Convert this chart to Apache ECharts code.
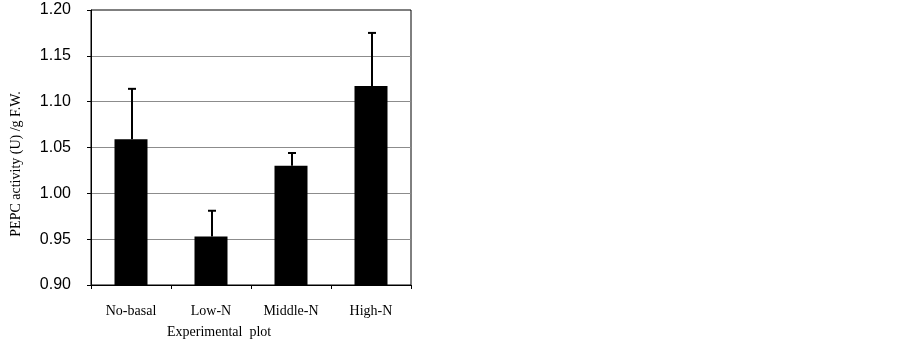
<!DOCTYPE html>
<html><head><meta charset="utf-8">
<script src="https://cdn.jsdelivr.net/npm/echarts@6/dist/echarts.min.js"></script>
<style>html,body{margin:0;padding:0;background:#fff}#c{width:902px;height:344px}</style>
</head><body><div id="c"></div>
<script>
var categories = ['No-basal', 'Low-N', 'Middle-N', 'High-N'];
var means = [1.059, 0.953, 1.030, 1.117];
var errors = [0.055, 0.028, 0.014, 0.058];
var yTicks = [0.90, 0.95, 1.00, 1.05, 1.10, 1.15, 1.20];
var yTitle = 'PEPC activity (U) /g F.W.';
var xTitle = 'Experimental  plot';

var chart = echarts.init(document.getElementById('c'));
var errData = means.map(function(m, i){ return [i, m, m + errors[i]]; });
chart.setOption({
  animation: false,
  grid: {left: 91, top: 10, width: 320, height: 275, show: true, borderColor: '#000', borderWidth: 1, backgroundColor: 'transparent'},
  xAxis: {
    type: 'category', data: categories,
    axisLine: {lineStyle: {color: '#000', width: 1}},
    axisTick: {show: true, length: 4, interval: 0, lineStyle: {color: '#000'}},
    axisLabel: {fontFamily: 'Liberation Serif', fontSize: 14, color: '#000', margin: 19}
  },
  yAxis: {
    type: 'value', min: yTicks[0], max: yTicks[yTicks.length - 1], interval: 0.05,
    axisLine: {show: true, lineStyle: {color: '#000', width: 1}},
    axisTick: {show: true, length: 4, lineStyle: {color: '#000'}},
    axisLabel: {fontFamily: 'Liberation Sans', fontSize: 16, color: '#000', margin: 20, padding: [4, 0, 0, 0],
      formatter: function(v){ return v.toFixed(2); }},
    splitLine: {show: true, showMaxLine: false, showMinLine: false, lineStyle: {color: '#8c8c8c', width: 1}}
  },
  graphic: [
    {type: 'text', left: 167, top: 325, style: {text: xTitle, font: '14px "Liberation Serif"', fill: '#000'}},
    {type: 'text', x: 16, y: 164, rotation: Math.PI / 2, style: {text: yTitle, font: '14px "Liberation Serif"', fill: '#000', textAlign: 'center', textVerticalAlign: 'middle'}}
  ],
  series: [
    {type: 'bar', data: means, barWidth: 33, itemStyle: {color: '#000'}, z: 2},
    {type: 'custom', data: errData, z: 3,
      renderItem: function(params, api){
        var base = api.coord([api.value(0), api.value(1)]);
        var top = api.coord([api.value(0), api.value(2)]);
        var x = base[0] + 1;
        return {type: 'group', children: [
          {type: 'line', shape: {x1: x, y1: base[1], x2: x, y2: top[1]}, style: {stroke: '#000', lineWidth: 2}},
          {type: 'line', shape: {x1: x - 4, y1: top[1], x2: x + 4, y2: top[1]}, style: {stroke: '#000', lineWidth: 2}}
        ]};
      }}
  ]
});
</script></body></html>
